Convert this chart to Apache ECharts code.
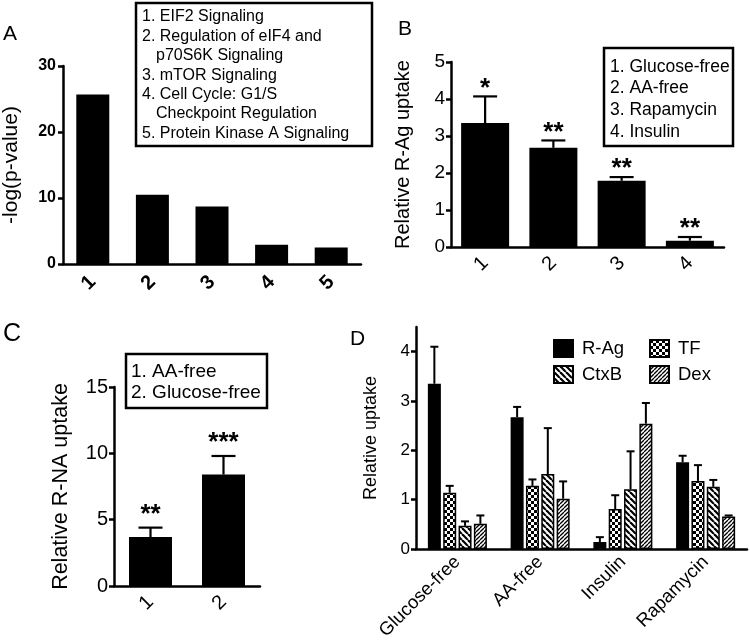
<!DOCTYPE html>
<html><head><meta charset="utf-8">
<script src="https://cdn.jsdelivr.net/npm/echarts@6/dist/echarts.min.js"></script>
<style>html,body{margin:0;padding:0;background:#fff}#c{width:750px;height:643px}</style>
</head><body><div id="c"></div>
<script>
// ---------- DATA ----------
const aCategories = ['1','2','3','4','5'];
const aValues = [25.7, 10.5, 8.7, 2.9, 2.5];
const aTicks = [0, 10, 20, 30];
const aLegendLines = ['1. EIF2 Signaling','2. Regulation of eIF4 and','p70S6K Signaling','3. mTOR Signaling','4. Cell Cycle: G1/S','Checkpoint Regulation','5. Protein Kinase A Signaling'];

const bCategories = ['1','2','3','4'];
const bValues = [3.35, 2.68, 1.79, 0.17];
const bErrors = [0.72, 0.20, 0.10, 0.10];
const bStars = ['*','**','**','**'];
const bTicks = [0,1,2,3,4,5];
const bLegendLines = ['1. Glucose-free','2. AA-free','3. Rapamycin','4. Insulin'];

const cCategories = ['1','2'];
const cValues = [3.69, 8.4];
const cErrors = [0.71, 1.4];
const cStars = ['**','***'];
const cTicks = [0,5,10,15];
const cLegendLines = ['1. AA-free','2. Glucose-free'];

const dCategories = ['Glucose-free','AA-free','Insulin','Rapamycin'];
const dSeriesNames = ['R-Ag','TF','CtxB','Dex'];
const dRAg = [3.35, 2.67, 0.14, 1.76];
const dRAgErr = [0.75, 0.21, 0.10, 0.13];
const dTF = [1.14, 1.28, 0.81, 1.38];
const dTFErr = [0.14, 0.13, 0.28, 0.32];
const dCtxB = [0.47, 1.52, 1.21, 1.26];
const dCtxBErr = [0.09, 0.93, 0.77, 0.14];
const dDex = [0.51, 1.02, 2.54, 0.66];
const dDexErr = [0.17, 0.35, 0.42, 0.02];
const dTicks = [0,1,2,3,4];

// ---------- STYLE HELPERS ----------
const FONT = '"Liberation Sans", Arial, Helvetica, sans-serif';
function pat(w, h, draw) {
  const c = document.createElement('canvas'); c.width = w; c.height = h;
  const g = c.getContext('2d'); g.fillStyle = '#fff'; g.fillRect(0,0,w,h);
  g.fillStyle = '#000'; g.strokeStyle = '#000'; draw(g);
  return { image: c, repeat: 'repeat' };
}
const checker = pat(6,6,g=>{g.fillRect(0,0,3,3);g.fillRect(3,3,3,3);});
const backslash = pat(6,6,g=>{g.lineWidth=2.2;for(const k of [-6,0,6]){g.beginPath();g.moveTo(k,0);g.lineTo(k+6,6);g.stroke();}});
const fwdslash = pat(4,4,g=>{g.lineWidth=1.3;for(const k of [-4,0,4]){g.beginPath();g.moveTo(k,4);g.lineTo(k+4,0);g.stroke();}});
const dFills = ['#000', checker, backslash, fwdslash];
const dValues = [dRAg, dTF, dCtxB, dDex];
const dErrs = [dRAgErr, dTFErr, dCtxBErr, dDexErr];

function axisLineStyle(){ return {show:true, lineStyle:{color:'#000', width:2.5}}; }

function errorSeries(gridIdx, vals, errs, stars, capW, offset, lw, starSize, starGap, z) {
  return {
    type:'custom', xAxisIndex:gridIdx, yAxisIndex:gridIdx, z: z||10,
    data: vals.map((v,i)=>[i, v, v+errs[i]]),
    renderItem: function(params, api){
      const i = api.value(0);
      const p0 = api.coord([i, api.value(1)]);
      const p1 = api.coord([i, api.value(2)]);
      const cx = p0[0] + offset;
      const kids = [
        {type:'line', shape:{x1:cx,y1:p0[1],x2:cx,y2:p1[1]}, style:{stroke:'#000', lineWidth:lw}},
        {type:'line', shape:{x1:cx-capW/2,y1:p1[1],x2:cx+capW/2,y2:p1[1]}, style:{stroke:'#000', lineWidth:lw}}
      ];
      if (stars) kids.push({type:'text', style:{text:stars[params.dataIndex], x:cx, y:p1[1]-starGap, align:'center', verticalAlign:'middle', font:'bold '+starSize+'px '+FONT, fill:'#000'}});
      return {type:'group', children:kids};
    }
  };
}

function legendBox(x,y,w,h,lines,fs,lh,tx,indent,ty){
  const children=[{type:'rect', shape:{x:x,y:y,width:w,height:h}, style:{fill:'#fff', stroke:'#000', lineWidth:2.5}}];
  lines.forEach((t,k)=>{
    const ind = /^\d+\./.test(t) ? 0 : indent;
    children.push({type:'text', style:{text:t, x:tx+ind, y:ty+k*lh, font:fs+'px '+FONT, fill:'#000', verticalAlign:'middle'}});
  });
  return {type:'group', children:children};
}

const chart = echarts.init(document.getElementById('c'), null, {renderer:'canvas'});

const option = {
  backgroundColor:'#fff',
  animation:false,
  grid:[
    {left:63, right:389, top:66, bottom:379},
    {left:451, right:26, top:62, bottom:396},
    {left:114, right:490, top:387, bottom:57},
    {left:416, right:3, top:327, bottom:94}
  ],
  xAxis:[
    {gridIndex:0, type:'category', data:aCategories, axisLine:axisLineStyle(), axisTick:{alignWithLabel:true, length:5, lineStyle:{width:2.5,color:'#000'}},
     axisLabel:{rotate:45, margin:15, fontSize:20, fontWeight:'bold', color:'#000', fontFamily:FONT}},
    {gridIndex:1, type:'category', data:bCategories, axisLine:axisLineStyle(), axisTick:{alignWithLabel:true, length:5, lineStyle:{width:2.5,color:'#000'}},
     axisLabel:{rotate:45, margin:13, fontSize:20, color:'#000', fontFamily:FONT}},
    {gridIndex:2, type:'category', data:cCategories, axisLine:axisLineStyle(), axisTick:{alignWithLabel:true, length:5, lineStyle:{width:2.5,color:'#000'}},
     axisLabel:{rotate:45, margin:13, fontSize:20, color:'#000', fontFamily:FONT}},
    {gridIndex:3, type:'category', data:dCategories, axisLine:axisLineStyle(), axisTick:{alignWithLabel:true, length:5, lineStyle:{width:2.5,color:'#000'}},
     axisLabel:{rotate:45, margin:10, fontSize:18.5, color:'#000', fontFamily:FONT}}
  ],
  yAxis:[
    {gridIndex:0, type:'value', min:aTicks[0], max:aTicks[aTicks.length-1], interval:10, axisLine:axisLineStyle(), splitLine:{show:false},
     axisTick:{show:true, length:5, lineStyle:{width:2.5,color:'#000'}},
     axisLabel:{margin:7, fontSize:16, fontWeight:'bold', color:'#000', fontFamily:FONT},
     name:'-log(p-value)', nameLocation:'middle', nameGap:41, nameTextStyle:{fontSize:21, color:'#000', fontFamily:FONT}},
    {gridIndex:1, type:'value', min:bTicks[0], max:bTicks[bTicks.length-1], interval:1, axisLine:axisLineStyle(), splitLine:{show:false},
     axisTick:{show:true, length:5, lineStyle:{width:2.5,color:'#000'}},
     axisLabel:{margin:6, fontSize:19, color:'#000', fontFamily:FONT},
     name:'Relative R-Ag uptake', nameLocation:'middle', nameGap:38, nameTextStyle:{fontSize:20, color:'#000', fontFamily:FONT}},
    {gridIndex:2, type:'value', min:cTicks[0], max:cTicks[cTicks.length-1], interval:5, axisLine:axisLineStyle(), splitLine:{show:false},
     axisTick:{show:true, length:5, lineStyle:{width:2.5,color:'#000'}},
     axisLabel:{margin:6, fontSize:20, color:'#000', fontFamily:FONT},
     name:'Relative R-NA uptake', nameLocation:'middle', nameGap:42, nameTextStyle:{fontSize:21.5, color:'#000', fontFamily:FONT}},
    {gridIndex:3, type:'value', min:0, max:4.5, interval:1, axisLine:axisLineStyle(), splitLine:{show:false},
     axisTick:{show:true, length:5, customValues:dTicks, lineStyle:{width:2.5,color:'#000'}},
     axisLabel:{margin:6, fontSize:17, customValues:dTicks, color:'#000', fontFamily:FONT},
     name:'Relative uptake', nameLocation:'middle', nameGap:36, nameTextStyle:{fontSize:18, color:'#000', fontFamily:FONT}}
  ],
  legend:[
    {data:[dSeriesNames[0], dSeriesNames[2]], orient:'vertical', left:548, top:334, itemWidth:19, itemHeight:17, itemGap:7, icon:'rect', selectedMode:false,
     textStyle:{fontSize:18.5, color:'#000', fontFamily:FONT, padding:[0,0,0,4]}},
    {data:[dSeriesNames[1], dSeriesNames[3]], orient:'vertical', left:644, top:334, itemWidth:19, itemHeight:17, itemGap:7, icon:'rect', selectedMode:false,
     textStyle:{fontSize:18.5, color:'#000', fontFamily:FONT, padding:[0,0,0,4]}}
  ],
  series:[
    {type:'bar', xAxisIndex:0, yAxisIndex:0, data:aValues, barWidth:33, itemStyle:{color:'#000'}},
    {type:'bar', xAxisIndex:1, yAxisIndex:1, data:bValues, barWidth:48, itemStyle:{color:'#000'}},
    errorSeries(1, bValues, bErrors, bStars, 24, 0, 2.2, 26, 8),
    {type:'bar', xAxisIndex:2, yAxisIndex:2, data:cValues, barWidth:43, itemStyle:{color:'#000'}},
    errorSeries(2, cValues, cErrors, cStars, 24, 0, 2.2, 26, 13)
  ].concat(dSeriesNames.map((n,k)=>({
    type:'bar', name:n, xAxisIndex:3, yAxisIndex:3, data:dValues[k], barWidth:13, barGap:'18%',
    itemStyle:{color:dFills[k], borderColor:'#000', borderWidth:1.5}
  }))).concat(dSeriesNames.map((n,k)=>errorSeries(3, dValues[k], dErrs[k], null, 8, (k-1.5)*15.34, 2, 0, 0))),
  graphic:[
    {type:'text', left:3, top:24, style:{text:'A', font:'21px '+FONT, fill:'#000'}},
    {type:'text', left:398, top:19, style:{text:'B', font:'21px '+FONT, fill:'#000'}},
    {type:'text', left:3, top:322, style:{text:'C', font:'25px '+FONT, fill:'#000'}},
    {type:'text', left:350, top:329, style:{text:'D', font:'21px '+FONT, fill:'#000'}},
    legendBox(136, 3, 236, 143, aLegendLines, 16, 19.4, 142, 14, 17),
    legendBox(604, 48, 129, 98, bLegendLines, 17.5, 21.6, 610, 0, 67),
    legendBox(126, 354, 141, 54, cLegendLines, 19, 21, 131, 0, 372)
  ]
};
chart.setOption(option);
</script>
</body></html>
